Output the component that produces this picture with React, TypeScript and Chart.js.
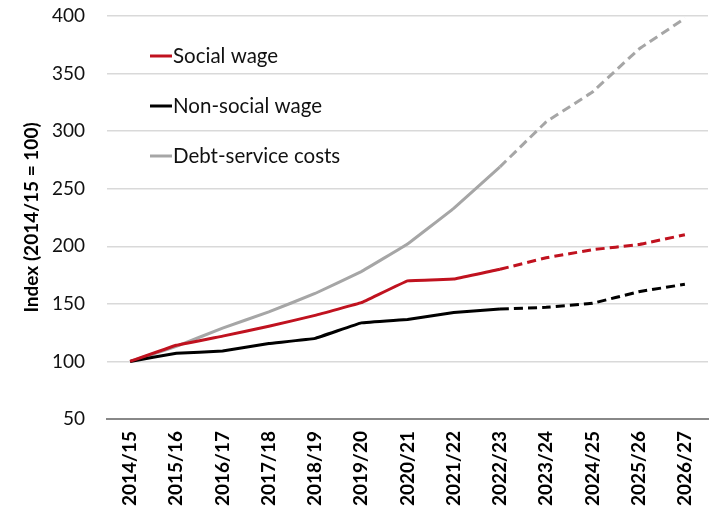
import React, { useEffect, useRef } from "react";
import { Chart, registerables } from "chart.js";

Chart.register(...registerables);

const categories = [
  "2014/15", "2015/16", "2016/17", "2017/18", "2018/19", "2019/20", "2020/21",
  "2021/22", "2022/23", "2023/24", "2024/25", "2025/26", "2026/27",
];
const socialWage = [100, 114, 122, 130.5, 140, 151, 170, 171.5, 180, 190, 197, 201.5, 210];
const nonSocialWage = [100, 107, 109, 115.5, 120, 133.5, 136.5, 142.5, 145.5, 147, 150.5, 160.5, 167];
const debtService = [100, 113, 129, 143, 159, 178, 202, 233, 269, 308, 334, 371, 398];
const seriesNames = ["Social wage", "Non-social wage", "Debt-service costs"];
const seriesColors = ["#C0121F", "#000000", "#A6A6A6"];
const yTicks = [50, 100, 150, 200, 250, 300, 350, 400];
const forecastStart = 8; // index of 2022/23, dashed afterwards

const FONT = "Lato, 'Noto Sans', sans-serif";

const legendPlugin = {
  id: "insideLegend",
  afterDraw(chart: any) {
    const ctx = chart.ctx;
    const area = chart.chartArea;
    ctx.save();
    ctx.font = `20.5px ${FONT}`;
    ctx.textBaseline = "middle";
    ctx.textAlign = "left";
    chart.data.datasets.forEach((ds: any, i: number) => {
      const y = area.top + 40 + i * 50;
      const x0 = area.left + 43;
      ctx.strokeStyle = ds.borderColor;
      ctx.lineWidth = 3;
      ctx.setLineDash([]);
      ctx.beginPath();
      ctx.moveTo(x0, y);
      ctx.lineTo(x0 + 22, y);
      ctx.stroke();
      ctx.fillStyle = "#111";
      ctx.fillText(ds.label, x0 + 23, y);
    });
    ctx.restore();
  },
};

export default function App() {
  const ref = useRef<HTMLCanvasElement | null>(null);
  useEffect(() => {
    document.body.style.margin = "0";
    const values = [socialWage, nonSocialWage, debtService];
    const chart = new Chart(ref.current as HTMLCanvasElement, {
      type: "line",
      data: {
        labels: categories,
        datasets: values.map((v, i) => ({
          label: seriesNames[i],
          data: v,
          borderColor: seriesColors[i],
          backgroundColor: seriesColors[i],
          borderWidth: 3,
          pointRadius: 0,
          tension: 0.05,
          borderCapStyle: "butt" as const,
          segment: {
            borderDash: (c: any) => (c.p0DataIndex >= forecastStart ? [9, 5] : undefined),
          },
        })),
      },
      options: {
        animation: false,
        responsive: true,
        maintainAspectRatio: false,
        layout: { padding: { top: 16, right: 7, left: 0, bottom: 0 } },
        plugins: { legend: { display: false }, tooltip: { enabled: false } },
        scales: {
          x: {
            offset: true,
            grid: { display: false, drawTicks: false },
            border: { display: true, color: "#888888", width: 2 },
            ticks: {
              color: "#000",
              font: { family: FONT, size: 19, weight: "bold" },
              minRotation: 90,
              maxRotation: 90,
              autoSkip: false,
              padding: 12,
            },
            afterFit: (s: any) => {
              s.height = 97;
              s.paddingLeft = 0;
              s.paddingRight = 0;
              s.paddingTop = 0;
              s.paddingBottom = 0;
            },
          },
          y: {
            min: 50,
            max: 400,
            afterBuildTicks: (s: any) => {
              s.ticks = yTicks.map((v) => ({ value: v }));
            },
            grid: {
              drawTicks: false,
              color: (c: any) => (c.tick && c.tick.value === 50 ? "#888888" : "#D9D9D9"),
              lineWidth: 1.5,
            },
            border: { display: false },
            ticks: {
              color: "#111",
              font: { family: FONT, size: 19 },
              padding: 22,
            },
            title: {
              display: true,
              text: "Index (2014/15 = 100)",
              color: "#000",
              font: { family: FONT, size: 19, weight: "bold" },
              padding: { top: 20, bottom: 0 },
            },
            afterFit: (s: any) => {
              s.width = 107;
              s.paddingTop = 0;
              s.paddingBottom = 0;
            },
          },
        },
      },
      plugins: [legendPlugin],
    });
    return () => chart.destroy();
  }, []);
  return (
    <div style={{ width: 715, height: 516, position: "relative" }}>
      <canvas ref={ref} />
    </div>
  );
}
